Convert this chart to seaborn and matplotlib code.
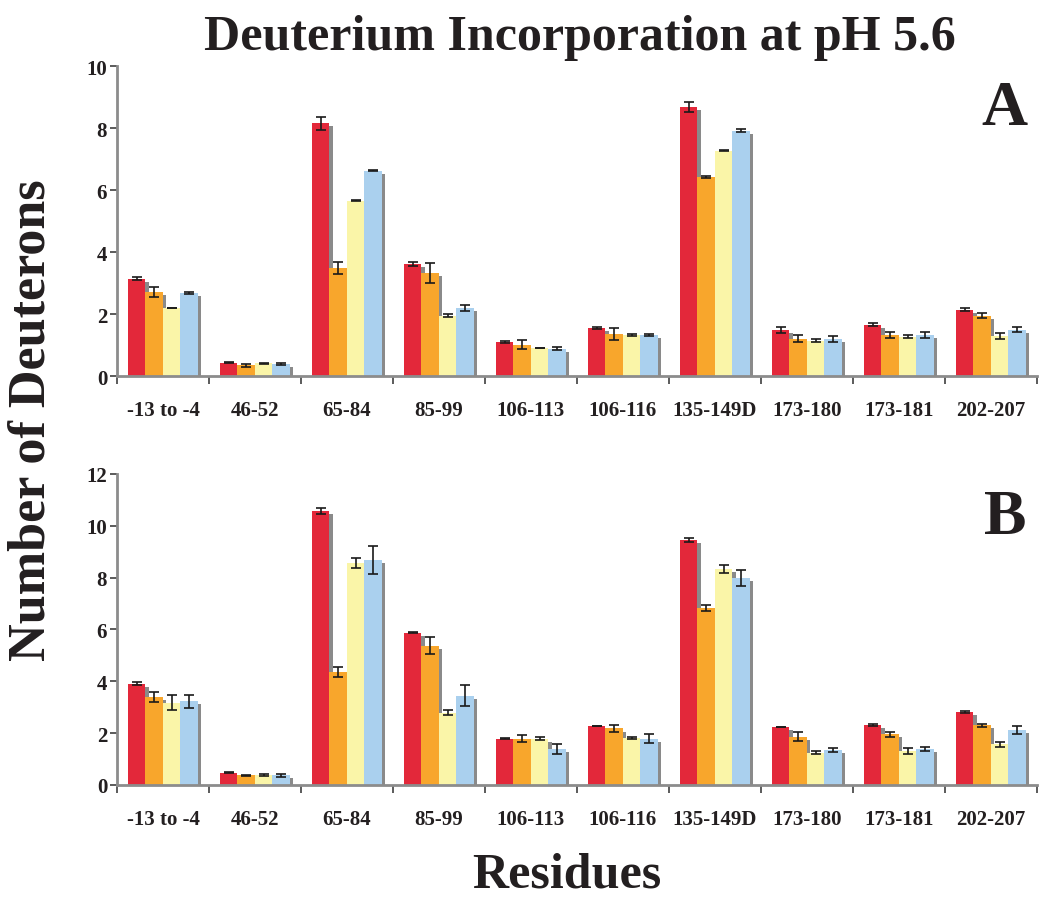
import numpy as np
import pandas as pd
import seaborn as sns
import matplotlib.pyplot as plt
import matplotlib.patheffects as pe

residues = ['-13 to -4', '46-52', '65-84', '85-99', '106-113', '106-116',
            '135-149D', '173-180', '173-181', '202-207']
series = ['s1', 's2', 's3', 's4']
colors = ['#E3283A', '#F8A62C', '#FAF5A8', '#AAD0EE']

# panel A
a_s1 = [3.14, 0.43, 8.16, 3.61, 1.10, 1.55, 8.68, 1.49, 1.66, 2.14]
a_s2 = [2.71, 0.34, 3.48, 3.32, 1.01, 1.35, 6.42, 1.20, 1.31, 1.94]
a_s3 = [2.19, 0.41, 5.66, 1.94, 0.90, 1.33, 7.27, 1.14, 1.26, 1.28]
a_s4 = [2.69, 0.40, 6.62, 2.19, 0.88, 1.31, 7.91, 1.20, 1.33, 1.50]
a_e1 = [0.05, 0.02, 0.21, 0.07, 0.04, 0.02, 0.17, 0.10, 0.05, 0.04]
a_e2 = [0.15, 0.05, 0.19, 0.31, 0.15, 0.20, 0.04, 0.11, 0.10, 0.08]
a_e3 = [0.01, 0.02, 0.03, 0.05, 0.01, 0.04, 0.01, 0.04, 0.05, 0.10]
a_e4 = [0.03, 0.03, 0.01, 0.10, 0.05, 0.03, 0.05, 0.10, 0.10, 0.07]

# panel B
b_s1 = [3.91, 0.48, 10.57, 5.88, 1.79, 2.28, 9.45, 2.24, 2.32, 2.82]
b_s2 = [3.40, 0.37, 4.36, 5.37, 1.79, 2.18, 6.82, 1.87, 1.96, 2.30]
b_s3 = [3.18, 0.37, 8.56, 2.79, 1.79, 1.81, 8.33, 1.25, 1.31, 1.57]
b_s4 = [3.23, 0.37, 8.69, 3.44, 1.38, 1.79, 7.98, 1.35, 1.38, 2.12]
b_e1 = [0.05, 0.02, 0.11, 0.02, 0.03, 0.01, 0.07, 0.01, 0.04, 0.03]
b_e2 = [0.20, 0.02, 0.20, 0.33, 0.12, 0.13, 0.12, 0.17, 0.10, 0.07]
b_e3 = [0.28, 0.04, 0.20, 0.10, 0.05, 0.05, 0.15, 0.07, 0.10, 0.10]
b_e4 = [0.25, 0.06, 0.55, 0.40, 0.20, 0.18, 0.32, 0.07, 0.08, 0.15]

sns.set_style('ticks')
plt.rcParams['font.family'] = ['Liberation Serif', 'DejaVu Serif']
plt.rcParams['font.weight'] = 'bold'
txt = '#231F20'
grey = '#8C8C8C'


def long_df(vals, errs):
    rows = []
    for s, v, e in zip(series, vals, errs):
        for r, vv, ee in zip(residues, v, e):
            rows.append({'residue': r, 'series': s, 'value': vv, 'err': ee})
    return pd.DataFrame(rows)


def panel(ax, vals, errs, ymax, letter):
    df = long_df(vals, errs)
    sns.barplot(data=df, x='residue', y='value', hue='series', order=residues,
                hue_order=series, palette=colors, errorbar=None, width=0.76,
                saturation=1, linewidth=0, legend=False, ax=ax)
    shadow = [pe.SimplePatchShadow(offset=(2.4, -2.2), shadow_rgbFace='#8a8a8a', alpha=1),
              pe.Normal()]
    for cont, s in zip(ax.containers, series):
        e = df[df['series'] == s]['err'].to_numpy()
        xs, hs = [], []
        for p in cont.patches:
            p.set_path_effects(shadow)
            xs.append(p.get_x() + p.get_width() / 2)
            hs.append(p.get_height())
        ax.errorbar(xs, hs, yerr=e, fmt='none', ecolor='#1a1a1a', elinewidth=1.2,
                    capsize=3.5, capthick=1.2, zorder=5)
    ax.set_xlim(-0.5, len(residues) - 0.5)
    ax.set_ylim(0, ymax)
    ax.set_yticks(np.arange(0, ymax + 1, 2))
    ax.set_xticks(np.arange(-0.5, len(residues), 1), minor=True)
    ax.tick_params(axis='x', which='major', length=0, pad=17, labelsize=15, colors=txt)
    ax.tick_params(axis='x', which='minor', length=6, width=1.2, color='#404040', direction='out')
    ax.tick_params(axis='y', length=5, width=1.2, color='#404040', pad=2, labelsize=15, labelcolor=txt)
    for lab in ax.get_xticklabels() + ax.get_yticklabels():
        lab.set_fontweight('bold')
    ax.set_xlabel('')
    ax.set_ylabel('')
    for side in ['top', 'right']:
        ax.spines[side].set_visible(False)
    for side in ['left', 'bottom']:
        ax.spines[side].set_color(grey)
        ax.spines[side].set_linewidth(2)
    ax.text(0.965, 0.86, letter, transform=ax.transAxes, ha='center', va='center',
            fontsize=46, fontweight='bold', color=txt)


fig = plt.figure(figsize=(10.5, 9.03), dpi=100)
ax_a = fig.add_axes([0.1114, 0.5825, 0.8762, 0.3433])
ax_b = fig.add_axes([0.1114, 0.1296, 0.8762, 0.3444])

panel(ax_a, [a_s1, a_s2, a_s3, a_s4], [a_e1, a_e2, a_e3, a_e4], 10, 'A')
panel(ax_b, [b_s1, b_s2, b_s3, b_s4], [b_e1, b_e2, b_e3, b_e4], 12, 'B')

fig.text(0.552, 0.958, 'Deuterium Incorporation at pH 5.6', ha='center', va='center',
         fontsize=36, fontweight='bold', color=txt)
fig.text(0.54, 0.031, 'Residues', ha='center', va='center',
         fontsize=36, fontweight='bold', color=txt)
fig.text(0.03, 0.535, 'Number of Deuterons', ha='center', va='center', rotation=90,
         fontsize=37.5, fontweight='bold', color=txt)

fig.savefig('out.png', dpi=100)
